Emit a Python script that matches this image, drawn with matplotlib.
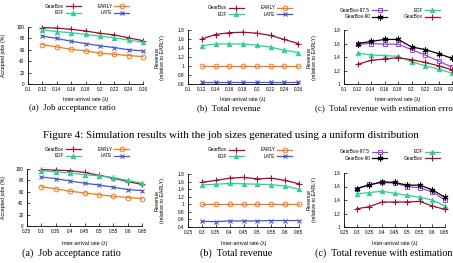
import matplotlib
matplotlib.use("Agg")
import matplotlib.pyplot as plt
import numpy as np

# ---- data ----
x_uniform = [0.12, 0.14, 0.16, 0.18, 0.20, 0.22, 0.24, 0.26]
x_other = [0.30, 0.35, 0.40, 0.45, 0.50, 0.55, 0.60, 0.65]

# row 1 (uniform job sizes)
acc1_gearbox = [99, 98, 96, 93, 89, 86, 81, 76]
acc1_edf = [95, 92, 90, 87, 84, 81, 77, 73]
acc1_early = [69, 65, 61, 58, 54, 52, 50, 48]
acc1_late = [84, 80, 75, 71, 67, 64, 60, 58]

rev1_gearbox = [1.60, 1.70, 1.74, 1.75, 1.73, 1.68, 1.59, 1.50]
rev1_edf = [1.45, 1.49, 1.49, 1.49, 1.46, 1.42, 1.35, 1.30]
rev1_early = [1.0, 1.0, 1.0, 1.0, 1.0, 1.0, 1.0, 1.0]
rev1_late = [0.65, 0.65, 0.65, 0.65, 0.65, 0.65, 0.65, 0.65]

err1_g975 = [1.59, 1.60, 1.59, 1.59, 1.51, 1.43, 1.34, 1.25]
err1_g90 = [1.60, 1.63, 1.66, 1.66, 1.55, 1.51, 1.45, 1.38]
err1_edf = [1.46, 1.43, 1.42, 1.41, 1.33, 1.27, 1.22, 1.16]
err1_gearbox = [1.29, 1.35, 1.37, 1.39, 1.36, 1.32, 1.27, 1.21]

# row 2
acc2_gearbox = [99, 98, 97, 94, 89, 84, 78, 73]
acc2_edf = [97, 95, 93, 90, 88, 85, 80, 75]
acc2_early = [69, 65, 61, 58, 55, 52, 50, 48]
acc2_late = [86, 83, 79, 75, 72, 68, 64, 62]

rev2_gearbox = [1.58, 1.63, 1.69, 1.71, 1.67, 1.69, 1.63, 1.54]
rev2_edf = [1.51, 1.53, 1.55, 1.54, 1.53, 1.52, 1.48, 1.40]
rev2_early = [1.0, 1.0, 1.0, 1.0, 1.0, 1.0, 1.0, 1.0]
rev2_late = [0.55, 0.54, 0.56, 0.56, 0.56, 0.57, 0.57, 0.57]

err2_g975 = [1.57, 1.63, 1.66, 1.65, 1.60, 1.58, 1.52, 1.40]
err2_g90 = [1.57, 1.62, 1.67, 1.66, 1.62, 1.62, 1.55, 1.44]
err2_edf = [1.49, 1.51, 1.53, 1.50, 1.47, 1.44, 1.40, 1.31]
err2_gearbox = [1.27, 1.30, 1.37, 1.37, 1.37, 1.38, 1.31, 1.26]

xt1 = [0.1, 0.12, 0.14, 0.16, 0.18, 0.2, 0.22, 0.24, 0.26]
xt1_lab = ['0.1', '0.12', '0.14', '0.16', '0.18', '0.2', '0.22', '0.24', '0.26']
xt2 = [0.25, 0.3, 0.35, 0.4, 0.45, 0.5, 0.55, 0.6, 0.65]
xt2_lab = ['0.25', '0.3', '0.35', '0.4', '0.45', '0.5', '0.55', '0.6', '0.65']

# ---- styles ----
sty = {
    'GearBox': dict(color='#9b1028', marker='+', ms=4.5, mew=0.8),
    'EDF': dict(color='#2ccf95', marker='^', ms=3.4, mew=0.5),
    'EARLY': dict(color='#f07a1e', marker='o', ms=3.4, mfc='none', mew=0.7),
    'LATE': dict(color='#4a55c8', marker='x', ms=3.4, mew=0.8),
    'GearBox-97.5': dict(color='#a040e0', marker='s', ms=3.4, mfc='none', mew=0.7),
    'GearBox-90': dict(color='black', marker=(6, 2, 0), ms=4.2, mew=0.8),
}

SANS = 'Liberation Sans'
SERIF = 'Liberation Serif'
TS = 3.4

W, H = 453, 263
fig = plt.figure(figsize=(W / 100, H / 100), dpi=100)


def make_ax(x0, x1, yb, yt):
    return fig.add_axes([x0 / W, 1 - yb / H, (x1 - x0) / W, (yb - yt) / H])


def style_ax(ax, xt, xl, yt, ylab):
    ax.set_xlim(xt[0], xt[-1])
    ax.set_ylim(yt[0], yt[-1])
    ax.set_xticks(xt)
    ax.set_xticklabels(xl, fontsize=TS, family=SANS)
    ax.set_yticks(yt)
    ax.set_yticklabels(ylab, fontsize=TS, family=SANS)
    for s in ['top', 'right']:
        ax.spines[s].set_visible(False)
    for s in ['left', 'bottom']:
        ax.spines[s].set_linewidth(0.6)
    ax.tick_params(direction='in', length=2, width=0.5, pad=2.5)


def draw(ax, x, series):
    for name, y in series:
        ax.plot(x, y, lw=0.9, clip_on=False, label=name, **sty[name])


def legend(ax, cx, cy):
    h, l = ax.get_legend_handles_labels()
    fig.legend(h, l, ncol=2, markerfirst=False, frameon=False, loc='center',
               bbox_to_anchor=(cx / W, 1 - cy / H), prop=dict(family=SANS, size=TS),
               handlelength=3.2, columnspacing=3.5, labelspacing=0.3, handletextpad=0.4,
               borderpad=0.1)


yl_acc = [0, 20, 40, 60, 80, 100]
yl_acc_l = ['0', '20', '40', '60', '80', '100']

rows = [
    dict(x=x_uniform, xt=xt1, xl=xt1_lab,
         acc=[('GearBox', acc1_gearbox), ('EDF', acc1_edf), ('EARLY', acc1_early), ('LATE', acc1_late)],
         rev=[('GearBox', rev1_gearbox), ('EDF', rev1_edf), ('EARLY', rev1_early), ('LATE', rev1_late)],
         err=[('GearBox-97.5', err1_g975), ('GearBox-90', err1_g90), ('EDF', err1_edf), ('GearBox', err1_gearbox)],
         rev_y=[0.6, 0.8, 1.0, 1.2, 1.4, 1.6, 1.8], rev_yl=['0.6', '0.8', '1', '1.2', '1.4', '1.6', '1.8'],
         pos=[(28, 143, 84, 27), (188, 298, 84, 30), (344, 452, 84, 30)],
         leg=[(87, 9.5), (250, 11), (390, 13.5)], xlab_y=100, cap_y=108, cap_fs=6.4),
    dict(x=x_other, xt=xt2, xl=xt2_lab,
         acc=[('GearBox', acc2_gearbox), ('EDF', acc2_edf), ('EARLY', acc2_early), ('LATE', acc2_late)],
         rev=[('GearBox', rev2_gearbox), ('EDF', rev2_edf), ('EARLY', rev2_early), ('LATE', rev2_late)],
         err=[('GearBox-97.5', err2_g975), ('GearBox-90', err2_g90), ('EDF', err2_edf), ('GearBox', err2_gearbox)],
         rev_y=[0.4, 0.6, 0.8, 1.0, 1.2, 1.4, 1.6, 1.8], rev_yl=['0.4', '0.6', '0.8', '1', '1.2', '1.4', '1.6', '1.8'],
         pos=[(27, 142, 226, 169), (188, 299, 227, 174), (344, 445, 227, 173)],
         leg=[(87, 152.5), (250, 153), (390, 155)], xlab_y=244, cap_y=253, cap_fs=7.3),
]

yl_err = [1.0, 1.2, 1.4, 1.6, 1.8]
yl_err_l = ['1', '1.2', '1.4', '1.6', '1.8']

for r in rows:
    p = r['pos']
    ax1 = make_ax(*p[0])
    draw(ax1, r['x'], r['acc'])
    style_ax(ax1, r['xt'], r['xl'], yl_acc, yl_acc_l)
    ax2 = make_ax(*p[1])
    draw(ax2, r['x'], r['rev'])
    style_ax(ax2, r['xt'], r['xl'], r['rev_y'], r['rev_yl'])
    ax3 = make_ax(*p[2])
    draw(ax3, r['x'], r['err'])
    style_ax(ax3, r['xt'], r['xl'], yl_err, yl_err_l)

    for ax, (cx, cy) in zip([ax1, ax2, ax3], r['leg']):
        legend(ax, cx, cy)
    for (x0, x1, yb, yt) in p:
        fig.text((x0 + x1) / 2 / W, 1 - r['xlab_y'] / H, 'Inter-arrival rate (\u03bb)',
                 ha='center', va='center', fontsize=3.8, family=SANS)
    ymid0 = (p[0][2] + p[0][3]) / 2
    fig.text(4 / W, 1 - ymid0 / H, 'Accepted jobs (%)', rotation=90, ha='center',
             va='center', fontsize=3.8, family=SANS)
    for xx, (x0, x1, yb, yt) in zip([160, 312], p[1:]):
        fig.text(xx / W, 1 - (yb + yt) / 2 / H, 'Revenue\n(relative to EARLY)', rotation=90,
                 ha='center', va='center', fontsize=3.8, family=SANS, linespacing=1.0)
    for xx, cap in zip([29, 197, 315] if r is rows[0] else [22, 200, 315],
                       ['(a)  Job acceptance ratio', '(b)  Total revenue',
                        '(c)  Total revenue with estimation error']):
        fig.text(xx / W, 1 - r['cap_y'] / H, cap, ha='left', va='center',
                 fontsize=r['cap_fs'], family=SERIF)

fig.text(43 / W, 1 - 135 / H,
         'Figure 4: Simulation results with the job sizes generated using a uniform distribution',
         ha='left', va='center', fontsize=7.95, family=SERIF)

fig.savefig('out.png', dpi=100)
